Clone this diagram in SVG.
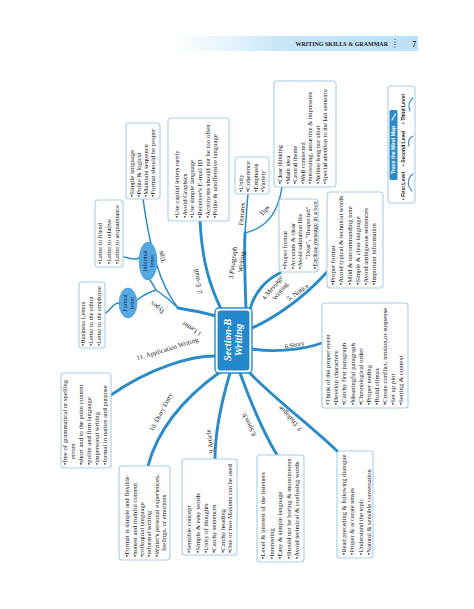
<svg xmlns="http://www.w3.org/2000/svg" width="474" height="609" viewBox="0 0 474 609">
<style>
.box{fill:#fff;stroke:#a9cfe8;stroke-width:1.1}
.bt{font-family:"Liberation Serif",serif;font-size:6.7px;fill:#222}
.sm{font-size:6.4px}
.lbl{font-family:"Liberation Serif",serif;font-size:6.8px;fill:#222}
.br{fill:none;stroke:#2a8bcb;stroke-linecap:round}
.m{stroke-width:2.9}
.s{stroke-width:1.5}
.ell{fill:#55a8e2;stroke:#3d95d2;stroke-width:0.6}
.et{font-family:"Liberation Serif",serif;font-size:6px;fill:#14305e;text-anchor:middle}
</style>
<defs>
<linearGradient id="hg" x1="0" y1="0" x2="1" y2="0">
<stop offset="0" stop-color="#d2ebfa" stop-opacity="0"/>
<stop offset="0.45" stop-color="#c8e6f8"/>
<stop offset="1" stop-color="#bde0f6"/>
</linearGradient>
</defs>
<rect width="474" height="609" fill="#fff"/>

<g id="header">
<rect x="170" y="36" width="248" height="15" fill="url(#hg)"/>
<text x="388" y="46" font-family="Liberation Serif,serif" font-size="6" font-weight="bold" text-anchor="end" fill="#1a1a1a">WRITING SKILLS &amp; GRAMMAR</text>
<line x1="395" y1="39" x2="395" y2="49" stroke="#333" stroke-width="1" stroke-dasharray="1,1.5"/>
<text x="414" y="46.5" font-family="Liberation Serif,serif" font-size="7.5" font-weight="bold" text-anchor="middle" fill="#1a1a1a">7</text>
</g>

<g id="connectors">
<path class="br m" d="M216,316 C205,313 190,310 178,308"/>
<path class="br s" d="M178,308 C170,300 162,294 156,290"/>
<path class="br s" d="M156,290 C150,292 142,296 137,300"/>
<path class="br s" d="M156,290 C154,286 152,283 150,280"/>
<path class="br s" d="M178,308 C160,285 150,250 143,199"/>
<path class="br s" d="M119,303 C112,303 110,312 105,313"/>
<path class="br s" d="M139,258 C133,261 128,257 123,257"/>
<path class="br m" d="M221,309 C212,290 202,265 200,221"/>
<path class="br m" d="M246,309 C245,282 244,255 245,233"/>
<path class="br s" d="M245,233 C246,220 247,205 248,194"/>
<path class="br s" d="M245,233 C265,228 278,215 282,187"/>
<path class="br m" d="M250,310 C253,295 265,280 280,273"/>
<path class="br m" d="M252,328 C270,320 300,302 327,272"/>
<path class="br m" d="M252,349 C270,352 300,351 322,343"/>
<path class="br m" d="M249,372 C270,395 310,425 337,451"/>
<path class="br m" d="M240,373 C248,395 262,430 277,455"/>
<path class="br m" d="M230,373 C222,400 215,430 215,459"/>
<path class="br m" d="M220,372 C195,390 160,420 148,466"/>
<path class="br m" d="M215,356 C190,356 150,368 111,395"/>
</g>

<g id="branch-labels">
<text class="lbl" transform="translate(193,327) rotate(-148)" text-anchor="middle">1 Letter</text>
<text class="lbl" transform="translate(159,306) rotate(-141)" text-anchor="middle">Types</text>
<text class="lbl" transform="translate(164,256) rotate(-110)" text-anchor="middle">Tips</text>
<text class="lbl" transform="translate(200,281) rotate(-100)" text-anchor="middle">2. E-mail</text>
<text class="lbl" transform="translate(235,263) rotate(-83)" text-anchor="middle"><tspan x="0" y="0">3.Paragraph</tspan><tspan x="2" y="8.5">Writing</tspan></text>
<text class="lbl" transform="translate(244,214) rotate(-85)" text-anchor="middle">Features</text>
<text class="lbl" transform="translate(266,212) rotate(-50)" text-anchor="middle">Tips</text>
<text class="lbl" transform="translate(274,289) rotate(-52)" text-anchor="middle"><tspan x="0" y="0">4.Message</tspan><tspan x="2" y="8.5">Writing</tspan></text>
<text class="lbl" transform="translate(299,294) rotate(-36)" text-anchor="middle">5. Notice</text>
<text class="lbl" transform="translate(295,347) rotate(-12)" text-anchor="middle">6.Story</text>
<text class="lbl" transform="translate(292,417) rotate(-133)" text-anchor="middle">7. Dialogue</text>
<text class="lbl" transform="translate(251,424) rotate(-116)" text-anchor="middle">8.Speech</text>
<text class="lbl" transform="translate(212,441) rotate(-98)" text-anchor="middle">9.Article</text>
<text class="lbl" transform="translate(163,413) rotate(-62)" text-anchor="middle">10. Diary Entry</text>
<text class="lbl" transform="translate(168,351) rotate(-17)" text-anchor="middle">11. Application Writing</text>
</g>

<g id="center">
<rect x="215" y="308" width="37" height="65" rx="4" fill="#fff" stroke="#2a8bcb" stroke-width="1.4"/>
<rect x="217.6" y="310.6" width="31.8" height="59.8" rx="3" fill="#2488cc"/>
<text transform="translate(231,340) rotate(-90)" font-family="Liberation Serif,serif" font-size="10.5" font-style="italic" font-weight="bold" fill="#fff" text-anchor="middle"><tspan x="0" y="0">Section-B</tspan><tspan x="0" y="11">Writing</tspan></text>
</g>

<g id="formal-letter">
<ellipse class="ell" cx="128" cy="303" rx="9" ry="15"/>
<text class="et" transform="translate(128,303) rotate(-90)"><tspan x="0" y="-0.8">Formal</tspan><tspan x="0" y="6.2">letter</tspan></text>
</g>
<g id="informal-letter">
<ellipse class="ell" cx="148" cy="261" rx="9" ry="19"/>
<text class="et" transform="translate(148,261) rotate(-90)"><tspan x="0" y="-0.8">Informal</tspan><tspan x="0" y="6.2">letter</tspan></text>
</g>

<g id="formal-list">
<rect class="box" x="79" y="282" width="26" height="66" rx="3"/>
<text class="bt sm" transform="translate(79,346) rotate(-90)"><tspan x="0" y="6.3">•Business Letters</tspan><tspan x="0" y="14.4">•Letter to the editor</tspan><tspan x="0" y="22.3">•Letter to the employee</tspan></text>
</g>
<g id="informal-list">
<rect class="box" x="95" y="200" width="28" height="67" rx="3"/>
<text class="bt sm" transform="translate(95,264) rotate(-90)"><tspan x="0" y="7.1">•Letter to friend</tspan><tspan x="0" y="15.6">•Letter to relative</tspan><tspan x="0" y="24.1">•Letter to acquaintance</tspan></text>
</g>
<g id="letter-tips">
<rect class="box" x="126" y="123" width="34" height="76" rx="3"/>
<text class="bt" transform="translate(126,197) rotate(-90)"><tspan x="0" y="7.5">•Simple language</tspan><tspan x="0" y="14.8">•Polite &amp; logical</tspan><tspan x="0" y="22.1">•Maintain sequence</tspan><tspan x="0" y="29.4">•Format should be proper</tspan></text>
</g>
<g id="email">
<rect class="box" x="168" y="118" width="61" height="103" rx="3"/>
<text class="bt" transform="translate(168,218) rotate(-90)"><tspan x="0" y="11.2">•Use capital letters rarely</tspan><tspan x="0" y="18.8">•Avoid Graphics</tspan><tspan x="0" y="26.4">•Use simple language</tspan><tspan x="0" y="34">•Receiver's E-mail ID</tspan><tspan x="0" y="41.6">•Acronyms should not be too often</tspan><tspan x="0" y="49.2">•Polite &amp; unoffensive language</tspan></text>
</g>
<g id="features">
<rect class="box" x="235" y="157" width="34" height="37" rx="3"/>
<text class="bt" transform="translate(235,192) rotate(-90)"><tspan x="0" y="8.2">•Unity</tspan><tspan x="0" y="15.4">•Coherence</tspan><tspan x="0" y="22.6">•Emphasis</tspan><tspan x="0" y="29.8">•Variety</tspan></text>
</g>
<g id="paragraph-tips">
<rect class="box" x="274" y="81" width="62" height="106" rx="3"/>
<text class="bt sm" transform="translate(274,184) rotate(-90)"><tspan x="0" y="8.1">•Clear thinking</tspan><tspan x="0" y="15.6">•Main idea</tspan><tspan x="0" y="23.1">•Central theme</tspan><tspan x="0" y="30.6">•Well connected</tspan><tspan x="0" y="38.1">•Interesting, attractive &amp; impressive</tspan><tspan x="0" y="45.6">•Neither long nor short</tspan><tspan x="0" y="53.1">•Special attention to the last sentence</tspan></text>
</g>
<g id="message">
<rect class="box" x="279" y="199" width="39" height="73" rx="3"/>
<text class="bt sm" transform="translate(279,269) rotate(-90)"><tspan x="0" y="8.1">•Proper format</tspan><tspan x="0" y="15.6">•Accurate &amp; clear</tspan><tspan x="0" y="23.1">•Avoid salutation  like</tspan><tspan x="10" y="30.6">"Dear", "Respected"</tspan><tspan x="0" y="38.1">•Enclose message in a box</tspan></text>
</g>
<g id="notice">
<rect class="box" x="327" y="192" width="56" height="96" rx="3"/>
<text class="bt" transform="translate(327,285) rotate(-90)"><tspan x="0" y="8.2">•Proper format</tspan><tspan x="0" y="16.4">•Avoid typical &amp; technical words</tspan><tspan x="0" y="24.6">•Mild &amp; uncommanding tone</tspan><tspan x="0" y="32.8">•Simple &amp; clear language</tspan><tspan x="0" y="41">•Avoid ambiguous sentences</tspan><tspan x="0" y="49.2">•Important information</tspan></text>
</g>
<g id="story">
<rect class="box" x="322" y="303" width="86" height="105" rx="3"/>
<text class="bt" transform="translate(322,405) rotate(-90)"><tspan x="0" y="8.2">•Think of the proper event</tspan><tspan x="0" y="16.3">•Develop characters</tspan><tspan x="0" y="24.4">•Catchy first paragraph</tspan><tspan x="0" y="32.5">•Meaningful paragraph</tspan><tspan x="0" y="40.6">•Chronological order</tspan><tspan x="0" y="48.7">•Proper ending</tspan><tspan x="0" y="56.8">•Build climax</tspan><tspan x="0" y="64.9">•Create conflict, tension,or suspense</tspan><tspan x="0" y="73">•Set up plot</tspan><tspan x="0" y="81.1">•Setting &amp; context</tspan></text>
</g>
<g id="dialogue">
<rect class="box" x="337" y="451" width="36" height="107" rx="3"/>
<text class="bt" transform="translate(337,555) rotate(-90)" style="font-size:6.5px"><tspan x="0" y="9.1">•Read preceding &amp; following dialogue</tspan><tspan x="0" y="17.4">•Proper &amp; accurate tenses</tspan><tspan x="0" y="25.7">•Understand the topic</tspan><tspan x="0" y="34">•Natural &amp; sensible conversation</tspan></text>
</g>
<g id="speech">
<rect class="box" x="257" y="455" width="47" height="107" rx="3"/>
<text class="bt" transform="translate(257,559) rotate(-90)"><tspan x="0" y="8.2">•Level &amp; interest of the listeners</tspan><tspan x="0" y="16.7">•Interesting</tspan><tspan x="0" y="25.2">•Easy &amp; simple language</tspan><tspan x="0" y="33.7">•Should not be boring &amp; monotonous</tspan><tspan x="0" y="42.2">•Avoid technical &amp; confusing words</tspan></text>
</g>
<g id="article">
<rect class="box" x="182" y="459" width="55" height="96" rx="3"/>
<text class="bt" transform="translate(182,553) rotate(-90)"><tspan x="0" y="9.2">•Sensible concept</tspan><tspan x="0" y="17.6">•Simple &amp; easy words</tspan><tspan x="0" y="26">•Unity of thoughts</tspan><tspan x="0" y="34.4">•Catchy sentences</tspan><tspan x="0" y="42.8">•Catchy heading</tspan><tspan x="0" y="50">•One or two Maxims can be used</tspan></text>
</g>
<g id="diary">
<rect class="box" x="119" y="466" width="51" height="94" rx="3"/>
<text class="bt" transform="translate(119,557) rotate(-90)"><tspan x="0" y="10.2">•Format is simple and flexible</tspan><tspan x="0" y="17.6">•honest and truthful content</tspan><tspan x="0" y="25">•colloquial language</tspan><tspan x="0" y="32.4">•informal writing</tspan><tspan x="0" y="39.8">•Writer's personal experiences,</tspan><tspan x="6" y="47.2">feelings, or emotions</tspan></text>
</g>
<g id="application">
<rect class="box" x="61" y="373" width="50" height="95" rx="3"/>
<text class="bt" transform="translate(61,465) rotate(-90)"><tspan x="0" y="6.4">•free of grammatical or spelling</tspan><tspan x="6" y="14.2">errors</tspan><tspan x="0" y="22.2">•short and to the point content</tspan><tspan x="0" y="30.2">•polite and firm language</tspan><tspan x="0" y="38.2">•impersonal writing</tspan><tspan x="0" y="46.2">•formal in nature and purpose</tspan></text>
</g>

<g id="trace-map">
<rect class="box" x="388" y="86" width="27" height="117" rx="3"/>
<rect x="389.5" y="110" width="8" height="70" rx="1.5" fill="#2a8bcb"/>
<text transform="translate(395.4,150) rotate(-90)" font-family="Liberation Sans,sans-serif" font-size="5.2" font-weight="bold" fill="#fff" text-anchor="middle">Trace the Mind Map</text>
<path d="M392,120 L395.5,114" stroke="#fff" stroke-width="1.2" stroke-linecap="round"/>
<g font-family="Liberation Sans,sans-serif" font-size="5" font-weight="bold" fill="#222">
<text transform="translate(405,200) rotate(-90)">• First Level</text>
<text transform="translate(405,166) rotate(-90)">• Second Level</text>
<text transform="translate(405,124) rotate(-90)">• Third Level</text>
</g>
<g fill="none" stroke="#2a8bcb" stroke-width="1.1" stroke-linecap="round">
<path d="M413,174 C407,178 407,186 412,191"/>
<path d="M413,136 C409,138 408,142 409,146"/>
<path d="M413,98 C409,101 408,106 410,111"/>
</g>
</g>
</svg>
